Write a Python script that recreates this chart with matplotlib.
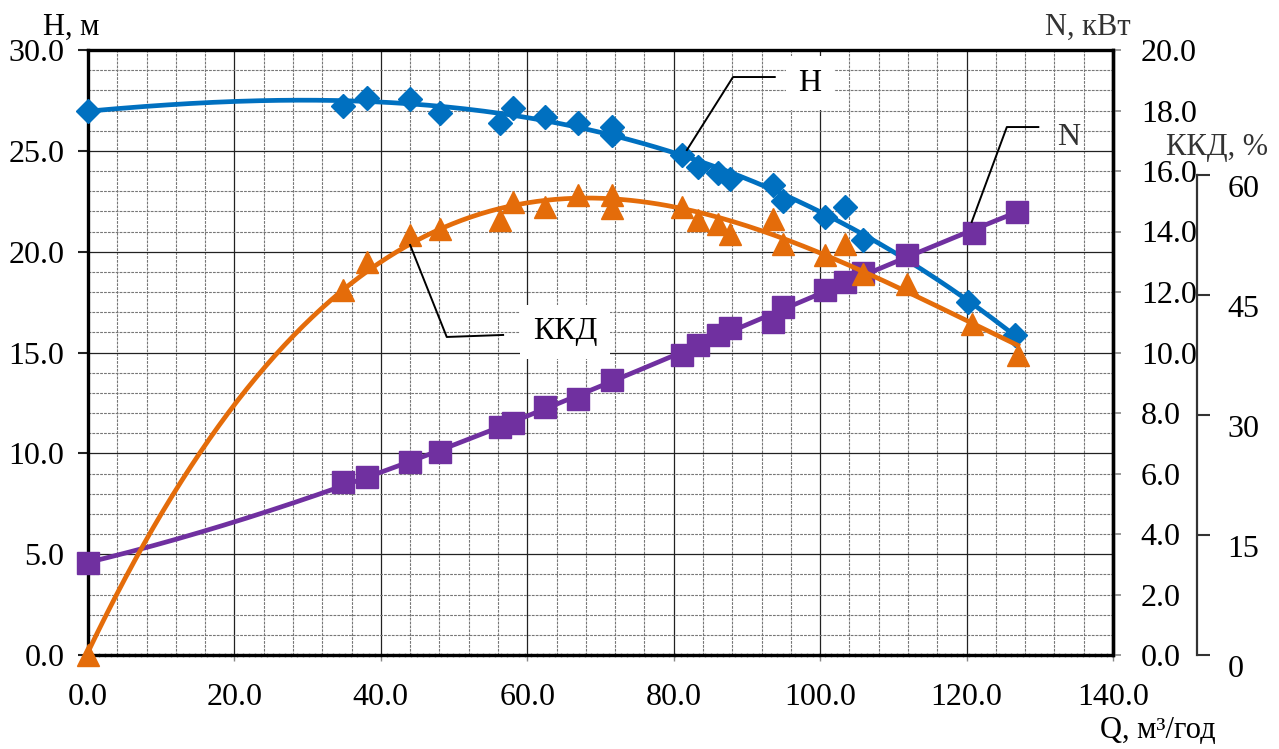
import numpy as np
import matplotlib
matplotlib.use('Agg')
import matplotlib.pyplot as plt
from matplotlib.ticker import MultipleLocator, FormatStrFormatter

# Head H, m
q_h = [0, 34.8, 38.1, 44.0, 48.1, 56.3, 58.1, 62.4, 66.9, 71.6, 71.6, 81.1, 83.3,
       86.1, 87.7, 93.6, 94.9, 100.7, 103.4, 105.9, 120.2, 126.6]
h = [27.0, 27.2, 27.6, 27.55, 26.9, 26.4, 27.1, 26.7, 26.4, 26.2, 25.8, 24.8, 24.2,
     23.9, 23.6, 23.3, 22.5, 21.7, 22.2, 20.6, 17.5, 15.85]

# Efficiency KKD, %
q_k = [0, 34.8, 38.1, 44.0, 48.1, 56.3, 58.1, 62.4, 66.9, 71.6, 71.6, 81.1, 83.3,
       86.1, 87.7, 93.6, 94.9, 100.7, 103.4, 105.9, 111.9, 120.8, 127.0]
kkd = [0, 45.6, 49.1, 52.5, 53.2, 54.4, 56.6, 56.0, 57.5, 57.5, 55.8, 56.0, 54.4,
       53.9, 52.6, 54.5, 51.4, 50.0, 51.4, 47.6, 46.4, 41.4, 37.5]

# Power N, kW
q_n = [0, 34.8, 38.1, 44.0, 48.1, 56.3, 58.1, 62.4, 66.9, 71.6, 81.1, 83.3, 86.1,
       87.7, 93.6, 94.9, 100.7, 103.4, 105.9, 111.9, 121.0, 126.9]
n = [3.04, 5.72, 5.88, 6.38, 6.71, 7.54, 7.67, 8.2, 8.46, 9.09, 9.92, 10.25, 10.58,
     10.81, 11.0, 11.5, 12.07, 12.33, 12.63, 13.22, 13.95, 14.66]

kkd_ticks = [0, 15, 30, 45, 60]

c_h = '#0070C0'
c_k = '#E46C0A'
c_n = '#7030A0'

plt.rcParams['font.family'] = ['Liberation Serif', 'DejaVu Serif']

fig = plt.figure(figsize=(12.79, 7.49), dpi=100, facecolor='w')
ax = fig.add_axes([88/1279, 1-655/749, (1113-88)/1279, (655-50)/749])
ax2 = ax.twinx()
ax3 = ax.twinx()


def trend(qs, vs, deg=3):
    coef = np.polyfit(qs, vs, deg)
    xs = np.linspace(min(qs), max(qs), 200)
    return xs, np.polyval(coef, xs)


# grid and main axis (H)
ax.set_xlim(0, 140)
ax.set_ylim(0, 30)
ax.xaxis.set_major_locator(MultipleLocator(20))
ax.xaxis.set_minor_locator(MultipleLocator(4))
ax.yaxis.set_major_locator(MultipleLocator(5))
ax.yaxis.set_minor_locator(MultipleLocator(1))
ax.xaxis.set_major_formatter(FormatStrFormatter('%.1f'))
ax.yaxis.set_major_formatter(FormatStrFormatter('%.1f'))
ax.set_axisbelow(True)
ax.grid(which='major', color='#222222', lw=0.9)
ax.grid(which='minor', color='#777777', lw=0.8, ls=(0, (2.5, 1)))
ax.tick_params(which='minor', length=0)
ax.tick_params(axis='x', which='major', length=4, width=1, color='#888888',
               labelsize=23, pad=16)
ax.tick_params(axis='y', which='major', length=7, width=1.5, color='#222222',
               labelsize=23, pad=10)
for s in ['left', 'top', 'right']:
    ax.spines[s].set_linewidth(2.4)
ax.spines['bottom'].set_linewidth(2.4)
ax.spines['bottom'].set_linestyle((0, (1.2, 0.6)))

xs, ys = trend(q_h, h)
ax.plot(xs, ys, color=c_h, lw=3.4, zorder=3)
ax.plot(q_h, h, ls='none', marker='D', ms=12.5, color=c_h, zorder=4, clip_on=False)

# N axis
ax2.set_ylim(0, 20)
ax2.yaxis.set_major_locator(MultipleLocator(2))
ax2.yaxis.set_major_formatter(FormatStrFormatter('%.1f'))
ax2.tick_params(axis='y', length=6, width=1.2, color='#888888', labelsize=23, pad=14)
for s in ['left', 'top', 'bottom']:
    ax2.spines[s].set_visible(False)
ax2.spines['right'].set_linewidth(2.4)
xs, ys = trend(q_n, n)
ax2.plot(xs, ys, color=c_n, lw=3.4, zorder=3)
ax2.plot(q_n, n, ls='none', marker='s', ms=16.5, color=c_n, zorder=4, clip_on=False)

# KKD axis
ax3.set_ylim(0, 75.6)
ax3.spines['right'].set_position(('axes', 1.082))
ax3.spines['right'].set_bounds(0, 60)
ax3.spines['right'].set_color('#333333')
ax3.spines['right'].set_linewidth(1.6)
for s in ['left', 'top', 'bottom']:
    ax3.spines[s].set_visible(False)
ax3.set_yticks(kkd_ticks)
ax3.set_yticklabels([str(t) for t in kkd_ticks])
ax3.tick_params(axis='y', length=9, width=1.5, color='#333333', labelsize=23, pad=13)
for lab in ax3.yaxis.get_ticklabels():
    lab.set_verticalalignment('top')
xs, ys = trend(q_k, kkd)
ax3.plot(xs, ys, color=c_k, lw=3.4, zorder=3)
ax3.plot(q_k, kkd, ls='none', marker='^', ms=16.5, color=c_k, zorder=4, clip_on=False)

# leader lines and callouts (in Q/H coordinates)
lk = dict(color='black', lw=1.4, transform=ax.transData, zorder=6, clip_on=False)
box = dict(boxstyle='square,pad=0.4', fc='white', ec='none')
ax3.plot([81.8, 88.1, 93.8], [25.04, 28.66, 28.66], **lk)
ax3.text(98.6, 28.36, 'H', transform=ax.transData, fontsize=23, ha='center',
         va='center', bbox=box, zorder=7)
ax3.plot([120.7, 125.5, 129.8], [21.47, 26.18, 26.18], **lk)
ax3.text(133.9, 25.64, 'N', transform=ax.transData, fontsize=23, ha='center',
         va='center', color='#333333', zorder=7)
ax3.plot([44.0, 49.0, 56.7], [20.33, 15.77, 15.87], **lk)
ax3.text(65.2, 16.02, 'ККД', transform=ax.transData, fontsize=23, ha='center',
         va='center', bbox=box, zorder=7)

# axis titles
fig.text(43/1279, 1-27/749, 'H, м', fontsize=22, ha='left', va='center')
fig.text(1045/1279, 1-27/749, 'N, кВт', fontsize=22, ha='left', va='center',
         color='#333333')
fig.text(1166/1279, 1-148/749, 'ККД, %', fontsize=22, ha='left', va='center',
         color='#333333')
fig.text(1100/1279, 1-731/749, 'Q, м³/год', fontsize=22, ha='left', va='center')

plt.savefig('out.png', dpi=100)
